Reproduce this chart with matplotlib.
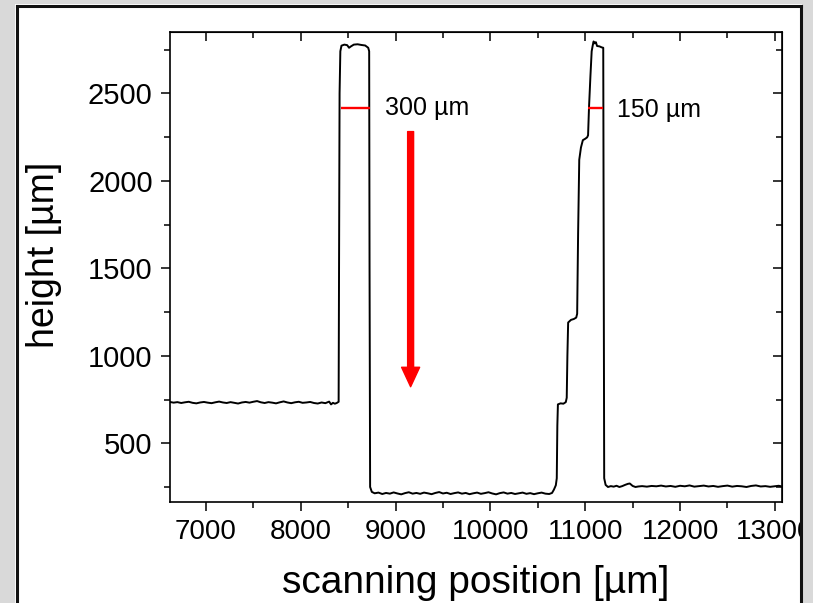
import matplotlib
matplotlib.use("Agg")
import matplotlib.pyplot as plt
from matplotlib.patches import Rectangle
from matplotlib.lines import Line2D

plt.rcParams['font.family'] = ['Liberation Sans', 'DejaVu Sans']

# scan profile
pos_um = [6620, 6660, 6700, 6740, 6780, 6820, 6860, 6900, 6940, 6980, 7020, 7060,
          7100, 7140, 7180, 7220, 7260, 7300, 7340, 7380, 7420, 7460, 7500, 7540,
          7580, 7620, 7660, 7700, 7740, 7780, 7820, 7860, 7900, 7940, 7980, 8020,
          8060, 8100, 8140, 8180, 8220, 8260, 8300, 8320, 8340, 8360, 8380, 8400,
          8410, 8418, 8430, 8460, 8490, 8510, 8530, 8560, 8600, 8640, 8680, 8712,
          8722, 8726, 8732, 8750,
          8780, 8820, 8860, 8900, 8940, 8980, 9020, 9060, 9100, 9140, 9180, 9220,
          9260, 9300, 9340, 9380, 9420, 9460, 9500, 9540, 9580, 9620, 9660, 9700,
          9740, 9780, 9820, 9860, 9900, 9940, 9980, 10020, 10060, 10100, 10140,
          10180, 10220, 10260, 10300, 10340, 10380, 10420, 10460, 10500, 10540,
          10580, 10620, 10650,
          10670, 10690, 10700, 10706, 10712, 10740, 10770, 10795, 10805, 10812,
          10820, 10850, 10880, 10905, 10915, 10925, 10937, 10955, 10975, 11000,
          11020, 11030, 11040, 11055, 11068, 11078, 11088, 11100, 11112, 11125,
          11150, 11175, 11190, 11195, 11200, 11215, 11240, 11270, 11300, 11330,
          11360, 11390, 11420, 11450, 11470, 11500, 11530, 11560,
          11600, 11650, 11700, 11750, 11800, 11850, 11900, 11950, 12000, 12050,
          12100, 12150, 12200, 12250, 12300, 12350, 12400, 12450, 12500, 12550,
          12600, 12650, 12700, 12750, 12800, 12850, 12900, 12950, 13000, 13040, 13075]
height_um = [736, 732, 735, 730, 734, 737, 731, 728, 733, 736, 732, 729,
             734, 738, 733, 730, 735, 731, 727, 733, 736, 732, 737, 741,
             734, 730, 735, 732, 728, 734, 739, 733, 729, 734, 737, 731,
             733, 736, 730, 727, 733, 729, 738, 722, 731, 726, 730, 737,
             2500, 2740, 2772, 2778, 2775, 2760, 2768, 2778, 2780, 2776, 2773, 2760,
             2740, 1500, 250, 222,
             214, 218, 210, 216, 212, 219, 213, 208, 215, 220, 212, 216,
             211, 218, 214, 209, 216, 221, 213, 217, 210, 215, 219, 212,
             216, 209, 214, 218, 211, 215, 220, 213, 208, 215, 219,
             212, 216, 210, 214, 218, 211, 215, 209, 214, 218,
             212, 210, 216,
             235, 260, 300, 600, 722, 728, 726, 735, 760, 1000,
             1190, 1205, 1210, 1218, 1240, 1700, 2120, 2190, 2232, 2240,
             2248, 2260, 2420, 2600, 2740, 2770, 2796, 2785, 2792, 2770,
             2768, 2762, 2760, 1500, 300, 262, 250, 255, 252, 257,
             250, 255, 262, 268, 270, 256, 250, 253,
             255, 252, 256, 254, 258, 253, 256, 251, 257, 254,
             259, 252, 255, 258, 253, 256, 251, 255, 258, 252,
             256, 254, 250, 256, 259, 253, 255, 251, 254, 257, 253]

# width markers (red bars) and labels
bar_left = [8421, 11031]
bar_right = [8730, 11190]
bar_level = [2418, 2418]
bar_text = ["300 µm", "150 µm"]
text_x = [8889, 11334]
text_y = [2418, 2405]

xmajor = [7000, 8000, 9000, 10000, 11000, 12000, 13000]
xminor = [7500, 8500, 9500, 10500, 11500, 12500]
ymajor = [500, 1000, 1500, 2000, 2500]
yminor = [250, 750, 1250, 1750, 2250, 2750]

fig = plt.figure(figsize=(8.13, 6.03), dpi=100, facecolor='white')
ax = fig.add_axes([0.2091, 0.168, 0.7528, 0.7789])

ax.plot(pos_um, height_um, color='black', lw=1.4)
ax.hlines(bar_level, bar_left, bar_right, color='red', lw=1.7)
for tx, ty, s in zip(text_x, text_y, bar_text):
    ax.text(tx, ty, s, fontsize=18, va='center', ha='left')

ax.annotate('', xy=(9159, 823), xytext=(9159, 2281),
            arrowprops=dict(facecolor='red', edgecolor='red', width=4.3,
                            headwidth=13, headlength=14, shrink=0))

ax.set_xlim(6622, 13075)
ax.set_ylim(166, 2850)
ax.set_xticks(xmajor)
ax.set_xticks(xminor, minor=True)
ax.set_yticks(ymajor)
ax.set_yticks(yminor, minor=True)
ax.tick_params(which='both', direction='out', width=1.1)
ax.tick_params(axis='x', labelsize=20, pad=6)
ax.tick_params(axis='y', labelsize=21, pad=6)
ax.tick_params(which='major', length=6.5)
ax.tick_params(which='minor', length=4)
for sp in ax.spines.values():
    sp.set_linewidth(1.2)

top = ax.secondary_xaxis('top')
top.set_xticks(xmajor)
top.set_xticks(xminor, minor=True)
top.tick_params(which='both', direction='in', labeltop=False, width=1.1)
top.tick_params(which='major', length=6.5)
top.tick_params(which='minor', length=4)
right = ax.secondary_yaxis('right')
right.set_yticks(ymajor)
right.set_yticks(yminor, minor=True)
right.tick_params(which='both', direction='in', labelright=False, width=1.1)
right.tick_params(which='major', length=6.5)
right.tick_params(which='minor', length=4)

ax.set_xlabel("scanning position [µm]", fontsize=28)
ax.set_ylabel("height [µm]", fontsize=27)
ax.xaxis.set_label_coords(0.499, -0.135)
ax.yaxis.set_label_coords(-0.177, 0.525)

# grey frame around the white panel, drawn over everything
gray = '#d9d9d9'
W, H = 813.0, 603.0
fig.patches.append(Rectangle((0, 0), 15 / W, 1, transform=fig.transFigure,
                             facecolor=gray, edgecolor='none', zorder=10))
fig.patches.append(Rectangle((0, 1 - 4 / H), 1, 4 / H, transform=fig.transFigure,
                             facecolor=gray, edgecolor='none', zorder=10))
fig.patches.append(Rectangle((802 / W, 0), 11 / W, 1, transform=fig.transFigure,
                             facecolor=gray, edgecolor='none', zorder=10))
frame_kw = dict(transform=fig.transFigure, color='#111111', lw=2.2, zorder=11)
fig.lines.append(Line2D([16.5 / W, 16.5 / W], [0, 1 - 5.5 / H], **frame_kw))
fig.lines.append(Line2D([16.5 / W, 800.5 / W], [1 - 5.5 / H, 1 - 5.5 / H], **frame_kw))
fig.lines.append(Line2D([800.5 / W, 800.5 / W], [0, 1 - 5.5 / H], **frame_kw))

fig.savefig('out.png', dpi=100, facecolor=fig.get_facecolor())
